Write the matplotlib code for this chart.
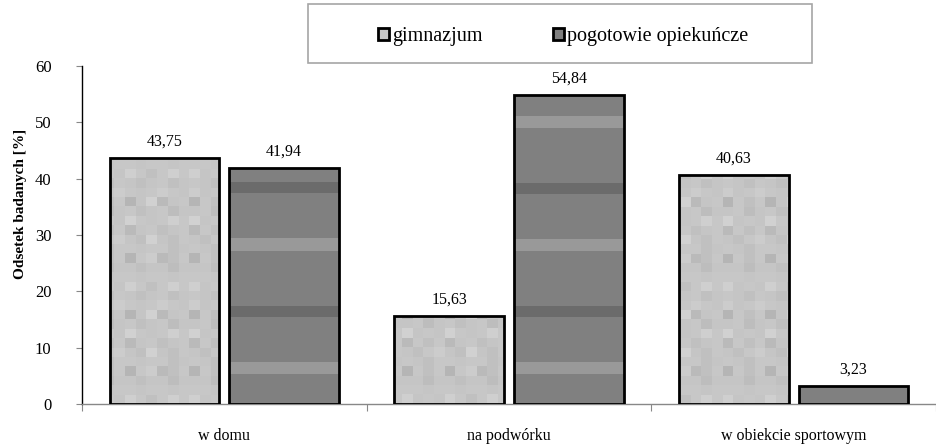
import numpy as np
import matplotlib
matplotlib.use("Agg")
import matplotlib.pyplot as plt
from matplotlib.patches import Rectangle
from matplotlib.ticker import FixedLocator, NullFormatter

categories = ["w domu", "na podwórku", "w obiekcie sportowym"]
gimnazjum = [43.75, 15.63, 40.63]
pogotowie = [41.94, 54.84, 3.23]
series_names = ["gimnazjum", "pogotowie opiekuńcze"]

plt.rcParams['font.family'] = ['Liberation Serif', 'DejaVu Serif']

W, H = 937, 446
fig = plt.figure(figsize=(W / 100, H / 100), dpi=100)
ax = fig.add_axes([82 / W, 1 - 404 / H, (936 - 82) / W, (404 - 66) / H])

x = np.arange(len(categories))
bw = 0.386
off = 0.21

# textures (decorative fill, imitating the Excel texture fills)
light_tile = np.array([
    [0.78, 0.77, 0.75, 0.78, 0.77, 0.75, 0.77, 0.78, 0.75, 0.77],
    [0.80, 0.77, 0.78, 0.80, 0.78, 0.77, 0.78, 0.80, 0.78, 0.77],
    [0.71, 0.78, 0.75, 0.78, 0.71, 0.77, 0.82, 0.73, 0.77, 0.78],
    [0.77, 0.78, 0.74, 0.77, 0.78, 0.75, 0.77, 0.78, 0.74, 0.77],
    [0.82, 0.77, 0.78, 0.77, 0.82, 0.78, 0.77, 0.78, 0.81, 0.78],
    [0.73, 0.78, 0.75, 0.78, 0.73, 0.77, 0.78, 0.75, 0.77, 0.78],
    [0.77, 0.75, 0.78, 0.80, 0.77, 0.75, 0.82, 0.77, 0.75, 0.78],
    [0.78, 0.77, 0.75, 0.78, 0.78, 0.77, 0.78, 0.78, 0.75, 0.77],
    [0.71, 0.78, 0.75, 0.78, 0.71, 0.78, 0.80, 0.73, 0.75, 0.78],
    [0.77, 0.77, 0.74, 0.77, 0.77, 0.75, 0.77, 0.77, 0.74, 0.77],
    [0.78, 0.78, 0.77, 0.78, 0.78, 0.77, 0.78, 0.78, 0.77, 0.78],
    [0.81, 0.77, 0.78, 0.77, 0.81, 0.78, 0.75, 0.78, 0.81, 0.78],
])
light_img = np.tile(light_tile, (3, 8))

# one row per pixel of the 338 px tall plot area, period 123 px
dark_rows = np.full(123, 0.50)
dark_rows[50:62] = 0.60
dark_rows[117:123] = 0.42
dark_rows[0:5] = 0.42
dark_img = np.tile(dark_rows, 3)[:338, None] * np.ones((1, 4))

ext = [-0.5, 2.5, 0, 60]
b1 = ax.bar(x - off, gimnazjum, bw, color="#c6c6c6", zorder=2)
b2 = ax.bar(x + off, pogotowie, bw, color="#7f7f7f", zorder=2)
for bars, img in ((b1, light_img), (b2, dark_img)):
    for p in bars:
        im = ax.imshow(img, cmap="gray", vmin=0, vmax=1, extent=ext,
                       aspect="auto", interpolation="nearest", zorder=2.5)
        im.set_clip_path(p)
ax.bar(x - off, gimnazjum, bw, fill=False, edgecolor="black", linewidth=2, zorder=3)
ax.bar(x + off, pogotowie, bw, fill=False, edgecolor="black", linewidth=2, zorder=3)

for xs, vals in ((x - off, gimnazjum), (x + off, pogotowie)):
    for xi, v in zip(xs, vals):
        ax.annotate(f"{v:.2f}".replace(".", ","), (xi, v), xytext=(0, 6),
                    textcoords="offset points", ha="center", va="bottom", fontsize=11.5)

ax.set_xlim(-0.5, 2.5)
ax.set_ylim(0, 60)
ax.set_yticks(range(0, 61, 10))
ax.tick_params(axis="y", length=4, width=0.8, color="#888888", labelsize=12, pad=18)

ax.xaxis.set_major_locator(FixedLocator([-0.5, 0.5, 1.5, 2.5]))
ax.xaxis.set_major_formatter(NullFormatter())
ax.xaxis.set_minor_locator(FixedLocator(list(x)))
ax.set_xticklabels(categories, minor=True)
ax.tick_params(axis="x", which="major", length=5, width=0.8, color="#888888")
ax.tick_params(axis="x", which="minor", length=0, labelsize=11.5, pad=17)

for s in ("top", "right"):
    ax.spines[s].set_visible(False)
ax.spines["left"].set_color("black")
ax.spines["bottom"].set_color("#888888")
ax.spines["left"].set_linewidth(1.0)
ax.spines["bottom"].set_linewidth(1.0)

ax.set_ylabel("Odsetek badanych [%]", fontsize=11, fontweight="bold")
ax.yaxis.set_label_coords(-55 / 854, (404 - 204) / 338)

# legend box
fig.patches.append(Rectangle((308 / W, 1 - 63 / H), (812 - 308) / W, 59 / H,
                             transform=fig.transFigure, fill=False,
                             edgecolor="#a6a6a6", linewidth=1.2))
h1 = Rectangle((0, 0), 1, 1, facecolor="#c6c6c6", edgecolor="black", linewidth=2)
h2 = Rectangle((0, 0), 1, 1, facecolor="#7f7f7f", edgecolor="black", linewidth=2)
fig.legend([h1, h2], series_names, loc="center", ncol=2,
           bbox_to_anchor=(563 / W, 1 - 37 / H), frameon=False, fontsize=14.5,
           handlelength=0.55, handleheight=0.55, handletextpad=0.15,
           columnspacing=3.5)

fig.savefig("out.png", dpi=100)
